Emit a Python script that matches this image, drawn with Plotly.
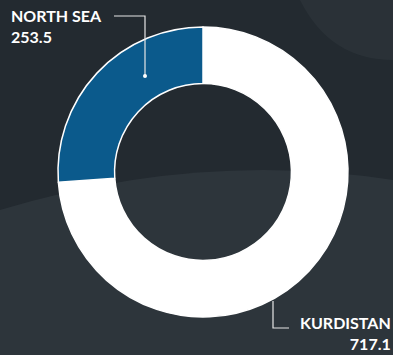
import plotly.graph_objects as go

labels = ["KURDISTAN", "NORTH SEA"]
values = [717.1, 253.5]
colors = ["#ffffff", "#0b5a8c"]

W, H = 393, 355
cx, cy, R = 203, 172, 145

def px(x):
    return x / W

def py(y):
    return 1 - y / H

fig = go.Figure()
fig.add_trace(go.Pie(
    labels=labels, values=values, hole=0.61, sort=False,
    direction="clockwise", rotation=0,
    marker=dict(colors=colors, line=dict(color="#ffffff", width=1.5)),
    textinfo="none", hoverinfo="label+value", showlegend=False,
    domain=dict(x=[px(cx - R), px(cx + R)], y=[py(cy + R), py(cy - R)]),
))

font = dict(family="Lato, 'Open Sans', sans-serif", size=16, color="#ffffff")
annotations = [
    dict(text="<b>%s</b><br><b>%s</b>" % (labels[1], values[1]),
         x=px(10), y=py(5), xanchor="left", yanchor="top", align="left"),
    dict(text="<b>%s</b><br><b>%s</b>" % (labels[0], values[0]),
         x=px(392), y=py(354), xanchor="right", yanchor="bottom", align="right"),
]
for a in annotations:
    a.update(xref="paper", yref="paper", showarrow=False, font=font, borderpad=0)

line = dict(color="#e6e6e6", width=1.2)
shapes = [
    # background shading
    dict(type="path", xref="paper", yref="paper", layer="below",
         path="M %f %f Q %f %f %f %f L 1 0 L 0 0 Z" % (0, py(210), px(200), py(150), 1, py(180)),
         fillcolor="rgba(70,78,86,0.3)", line=dict(width=0)),
    dict(type="path", xref="paper", yref="paper", layer="below",
         path="M %f %f Q %f %f %f %f L 1 1 Z" % (px(300), 1, px(330), py(60), 1, py(60)),
         fillcolor="rgba(70,78,86,0.2)", line=dict(width=0)),
    # leader lines
    dict(type="path", xref="paper", yref="paper",
         path="M %f %f L %f %f L %f %f" % (px(114), py(16), px(145), py(16), px(145), py(76)),
         line=line),
    dict(type="circle", xref="paper", yref="paper",
         x0=px(143), x1=px(147), y0=py(78), y1=py(74),
         fillcolor="#ffffff", line=dict(width=0)),
    dict(type="path", xref="paper", yref="paper",
         path="M %f %f L %f %f L %f %f" % (px(273), py(301), px(273), py(328), px(289), py(328)),
         line=line),
]

fig.update_layout(
    width=W, height=H, margin=dict(l=0, r=0, t=0, b=0),
    paper_bgcolor="#232a30", plot_bgcolor="#232a30",
    annotations=annotations, shapes=shapes,
)
fig.write_html("out.html")
